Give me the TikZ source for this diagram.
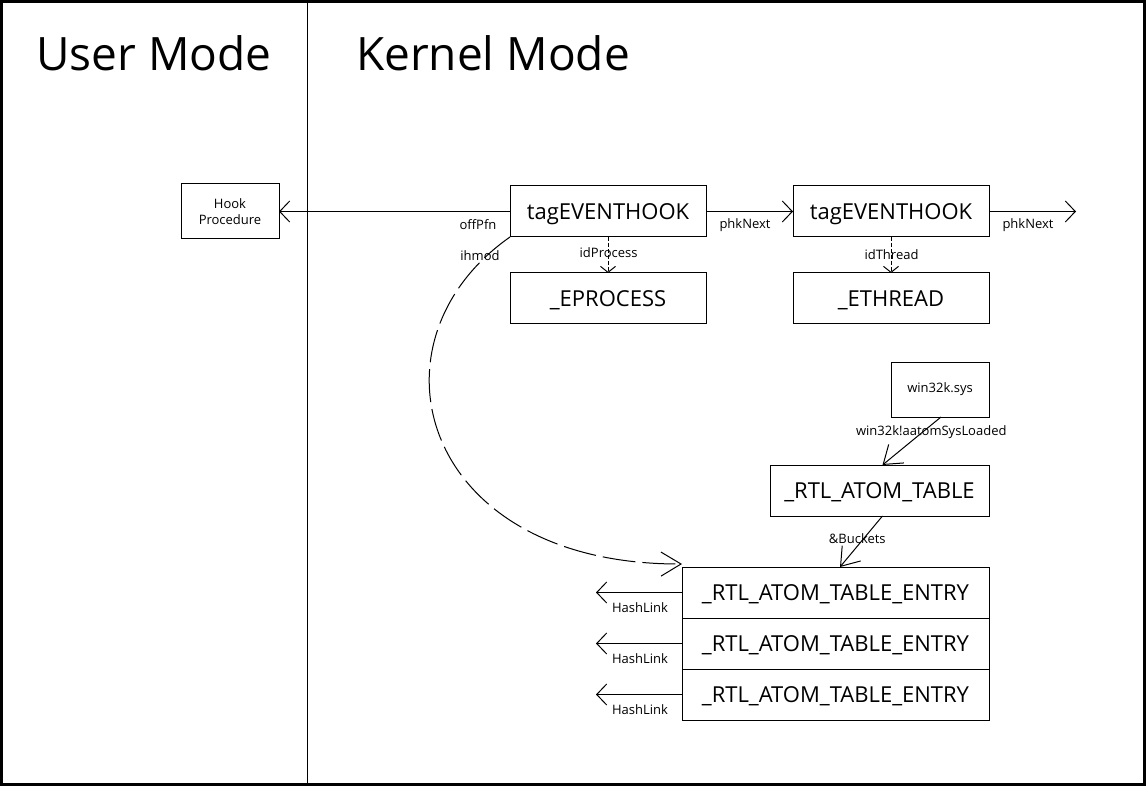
\documentclass[tikz,border=0pt]{standalone}
\usepackage{fontspec}
\setmainfont{Open Sans}
\usetikzlibrary{arrows.meta}
\begin{document}
\begin{tikzpicture}[x=1pt,y=-1pt,
  box/.style={draw, line width=1pt, inner sep=0pt, outer sep=0pt,
    font=\fontsize{22}{26}\selectfont, text height=15.7pt, text depth=0pt},
  smallbox/.style={draw, line width=1pt, inner sep=0pt, outer sep=0pt,
    font=\fontsize{13}{16}\selectfont, align=center},
  lbl/.style={inner sep=0pt, font=\fontsize{13}{16}\selectfont, text height=9.3pt, text depth=0pt},
  title/.style={inner sep=0pt, font=\fontsize{46}{50}\selectfont, text height=33.3pt, text depth=0pt},
  arr/.style={line width=1pt, -{Straight Barb[length=10pt,width=21pt,line width=1pt]}},
  darr/.style={line width=1pt, dash pattern=on 4pt off 2pt, -{Straight Barb[length=6pt,width=15pt,line width=1pt]}},
  diag/.style={line width=1pt, -{Straight Barb[length=17pt,width=24pt,line width=1pt]}},
  curv/.style={line width=1pt, dash pattern=on 33pt off 7pt, -{Straight Barb[length=20pt,width=24pt,line width=1pt]}}
]
\useasboundingbox (0,0) rectangle (1146,786);
\fill[white] (0,0) rectangle (1146,786);
\draw[line width=2.6pt] (1.3,1.3) rectangle (1144.7,784.7);
\draw[line width=1pt] (307.5,1) -- (307.5,785);

\node[title] (tUser) at (154,54.3) {User Mode};
\node[title] (tKern) at (493,54.3) {Kernel Mode};

\node[smallbox, minimum width=98pt, minimum height=55pt] (hook) at (230,211.5) {Hook\\Procedure};
\node[box, minimum width=196pt, minimum height=51pt] (tag1) at (608,211.5) {tagEVENTHOOK};
\node[box, minimum width=196pt, minimum height=51pt] (tag2) at (891,211.5) {tagEVENTHOOK};
\node[box, minimum width=196pt, minimum height=51pt] (eproc) at (608,298.5) {\_EPROCESS};
\node[box, minimum width=196pt, minimum height=51pt] (ethr) at (891,298.5) {\_ETHREAD};
\node[smallbox, minimum width=98pt, minimum height=55pt] (w32) at (940,389.5) {win32k.sys};
\node[box, minimum width=219pt, minimum height=51pt] (atab) at (879.5,490.5) {\_RTL\_ATOM\_TABLE};
\node[box, minimum width=307pt, minimum height=51pt] (e1) at (835.5,592.5) {\_RTL\_ATOM\_TABLE\_ENTRY};
\node[box, minimum width=307pt, minimum height=51pt] (e2) at (835.5,643.5) {\_RTL\_ATOM\_TABLE\_ENTRY};
\node[box, minimum width=307pt, minimum height=51pt] (e3) at (835.5,694.5) {\_RTL\_ATOM\_TABLE\_ENTRY};

\coordinate (nxt) at (1076,211.5);
\coordinate (h1) at (596,592.5);
\coordinate (h2) at (596,643.5);
\coordinate (h3) at (596,694.5);

\draw[arr] (tag1.west) -- (hook.east);
\draw[arr] (tag1.east) -- (tag2.west);
\draw[arr] (tag2.east) -- (nxt);
\draw[darr] (tag1.south) -- (eproc.north);
\draw[darr] (tag2.south) -- (ethr.north);
\draw[diag] ([xshift=1pt]w32.south) -- ([xshift=3pt]atab.north);
\draw[diag] ([xshift=3pt]atab.south) -- ([xshift=4.5pt]e1.north);
\draw[curv] (tag1.south west) .. controls (360,342) and (420,565) .. ([yshift=3pt]e1.north west);
\draw[arr] (e1.west) -- (h1);
\draw[arr] (e2.west) -- (h2);
\draw[arr] (e3.west) -- (h3);

\node[lbl] (lOff) at (478,224.5) {offPfn};
\node[lbl] (lIh) at (480,255.7) {ihmod};
\node[lbl] (lNx1) at (745,224) {phkNext};
\node[lbl] (lNx2) at (1028,224) {phkNext};
\node[lbl] (lPr) at (608.6,252.7) {idProcess};
\node[lbl] (lTh) at (891.5,254.7) {idThread};
\node[lbl] (lSys) at (931.3,430.5) {win32k!aatomSysLoaded};
\node[lbl] (lBk) at (857.3,538.7) {\&Buckets};
\node[lbl] (lH1) at (640,607.5) {HashLink};
\node[lbl] (lH2) at (640,658.5) {HashLink};
\node[lbl] (lH3) at (640,709.5) {HashLink};
\end{tikzpicture}
\end{document}
